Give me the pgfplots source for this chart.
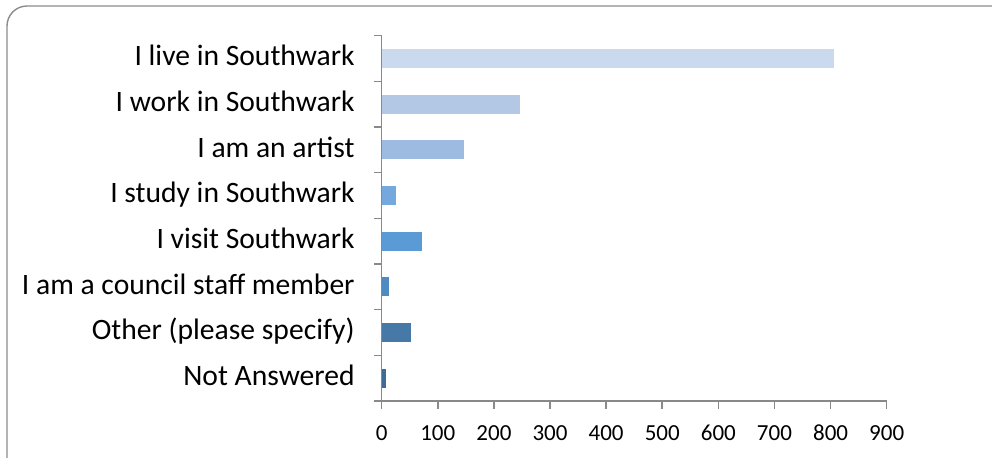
\documentclass[border=0pt]{standalone}
\usepackage{pgfplots}
\pgfplotsset{compat=1.18}
\usepackage{fontspec}
\setmainfont{Carlito}

\definecolor{axisgray}{HTML}{898989}
\definecolor{framegray}{HTML}{8C8C8C}
\definecolor{c1}{HTML}{CBD9EF}
\definecolor{c2}{HTML}{B3C8E5}
\definecolor{c3}{HTML}{9DBBE1}
\definecolor{c4}{HTML}{75A8DC}
\definecolor{c5}{HTML}{5B9BD5}
\definecolor{c6}{HTML}{4F8AC1}
\definecolor{c7}{HTML}{4678A8}
\definecolor{c8}{HTML}{3F6B99}

\begin{document}
\begin{tikzpicture}
% page = 992 x 458 px, 1 px = 0.5 pt
\clip (0pt,0pt) rectangle (496pt,-229pt);
\fill[white] (0pt,0pt) rectangle (496pt,-229pt);
\draw[framegray, line width=0.7pt, rounded corners=10pt] (3.5pt,-3pt) rectangle (510pt,-240pt);
\begin{axis}[
  at={(190.85pt,-200.5pt)}, anchor=south west,
  scale only axis, width=252.5pt, height=182.65pt,
  xmin=0, xmax=900, ymin=-0.5, ymax=7.5,
  y dir=reverse,
  axis lines*=left,
  axis line style={draw=axisgray, line width=0.75pt},
  tick align=outside,
  major tick length=3.75pt,
  tick style={draw=axisgray, line width=0.75pt},
  xtick={0,100,...,900},
  ytick={-0.5,0.5,...,7.5},
  yticklabels={},
  extra y ticks={0,1,2,3,4,5,6,7},
  extra y tick labels={I live in Southwark, I work in Southwark, I am an artist, I study in Southwark, I visit Southwark, I am a council staff member, Other (please specify), Not Answered},
  extra y tick style={major tick length=0pt},
  yticklabel style={font=\fontsize{14.8}{17}\selectfont, anchor=base east, xshift=-10pt, yshift=-3.6pt},
  xticklabel style={font=\fontsize{11.5}{14}\selectfont, anchor=base, yshift=-16pt},
  /pgf/number format/assume math mode=true,
  every axis plot/.append style={xbar, bar width=9.6pt, bar shift=0pt, draw=none},
]
\addplot[fill=c1] coordinates {(806,0)};
\addplot[fill=c2] coordinates {(246,1)};
\addplot[fill=c3] coordinates {(147,2)};
\addplot[fill=c4] coordinates {(25,3)};
\addplot[fill=c5] coordinates {(72,4)};
\addplot[fill=c6] coordinates {(13,5)};
\addplot[fill=c7] coordinates {(53,6)};
\addplot[fill=c8] coordinates {(7,7)};
\end{axis}
\end{tikzpicture}
\end{document}
